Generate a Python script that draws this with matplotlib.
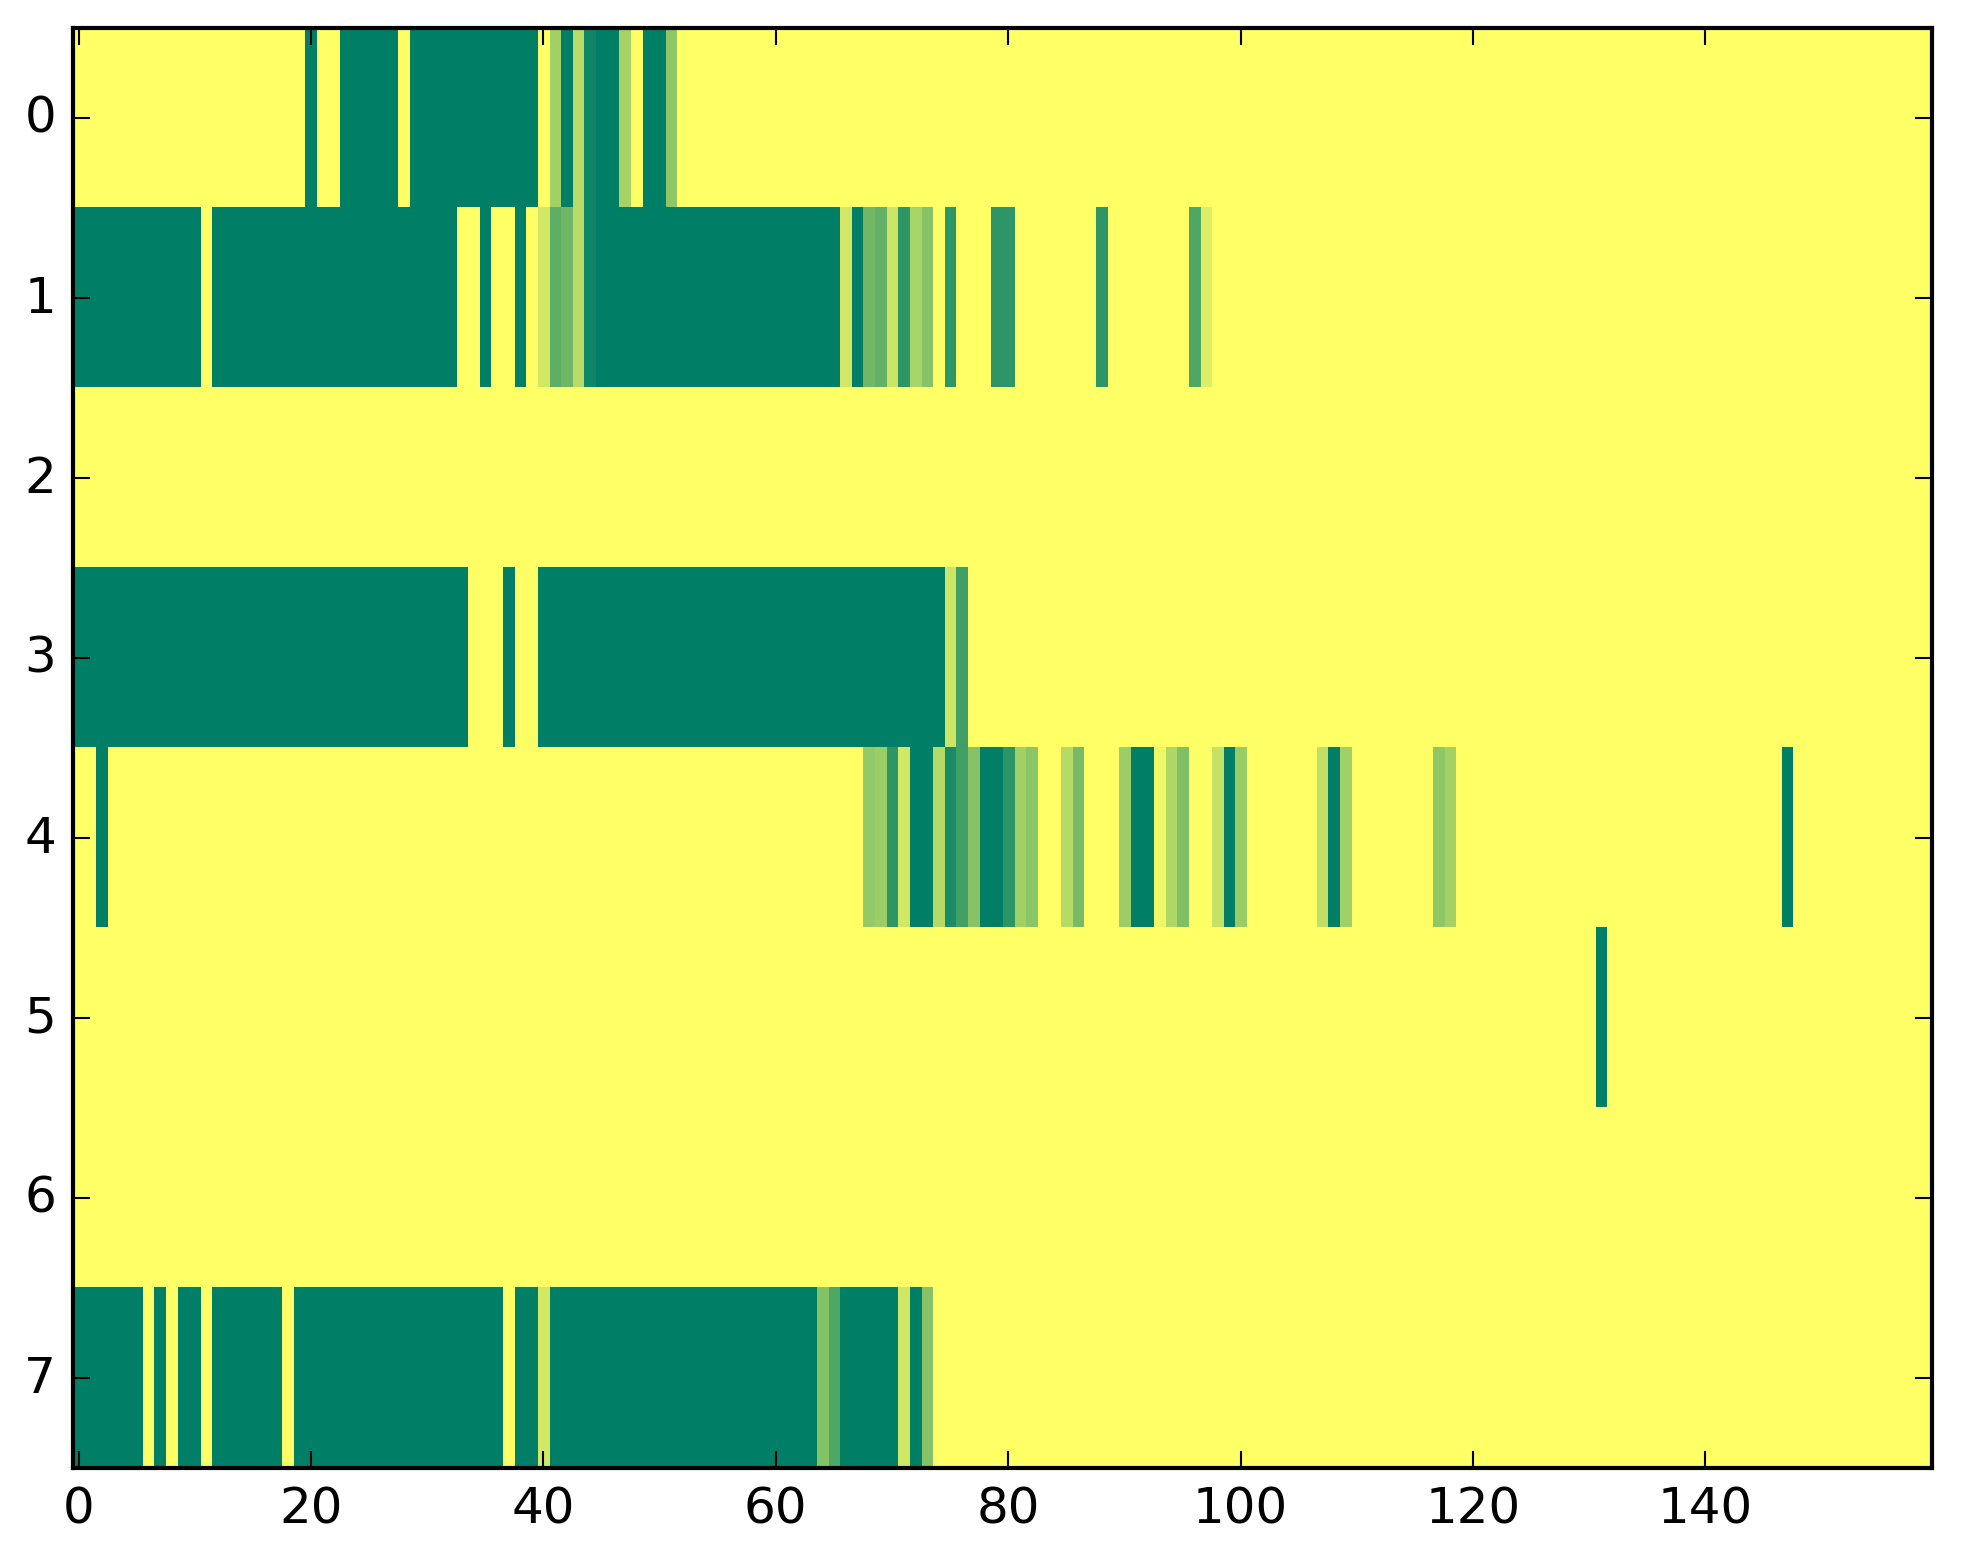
import matplotlib
matplotlib.use("Agg")
import matplotlib.pyplot as plt
import numpy as np

# Each row: 160 columns, written 20 values per line
row0 = [
    0, 0, 0, 0, 0, 0, 0, 0, 0, 0, 0, 0, 0, 0, 0, 0, 0, 0, 0, 0,
    1, 0, 0, 1, 1, 1, 1, 1, 0, 1, 1, 1, 1, 1, 1, 1, 1, 1, 1, 1,
    0, .37, 1, .28, .94, 1, 1, .35, 0, 1, 1, .44, 0, 0, 0, 0, 0, 0, 0, 0,
    0, 0, 0, 0, 0, 0, 0, 0, 0, 0, 0, 0, 0, 0, 0, 0, 0, 0, 0, 0,
    0, 0, 0, 0, 0, 0, 0, 0, 0, 0, 0, 0, 0, 0, 0, 0, 0, 0, 0, 0,
    0, 0, 0, 0, 0, 0, 0, 0, 0, 0, 0, 0, 0, 0, 0, 0, 0, 0, 0, 0,
    0, 0, 0, 0, 0, 0, 0, 0, 0, 0, 0, 0, 0, 0, 0, 0, 0, 0, 0, 0,
    0, 0, 0, 0, 0, 0, 0, 0, 0, 0, 0, 0, 0, 0, 0, 0, 0, 0, 0, 0,
]
row1 = [
    1, 1, 1, 1, 1, 1, 1, 1, 1, 1, 1, 0, 1, 1, 1, 1, 1, 1, 1, 1,
    1, 1, 1, 1, 1, 1, 1, 1, 1, 1, 1, 1, 1, 0, 0, 1, 0, 0, 1, 0,
    .18, .63, .57, .28, .94, 1, 1, 1, 1, 1, 1, 1, 1, 1, 1, 1, 1, 1, 1, 1,
    1, 1, 1, 1, 1, 1, .17, 1, .56, .61, .2, .82, .34, .47, 0, .82, 0, 0, 0, .82,
    .82, 0, 0, 0, 0, 0, 0, 0, .82, 0, 0, 0, 0, 0, 0, 0, .69, .14, 0, 0,
    0, 0, 0, 0, 0, 0, 0, 0, 0, 0, 0, 0, 0, 0, 0, 0, 0, 0, 0, 0,
    0, 0, 0, 0, 0, 0, 0, 0, 0, 0, 0, 0, 0, 0, 0, 0, 0, 0, 0, 0,
    0, 0, 0, 0, 0, 0, 0, 0, 0, 0, 0, 0, 0, 0, 0, 0, 0, 0, 0, 0,
]
row2 = [
    0, 0, 0, 0, 0, 0, 0, 0, 0, 0, 0, 0, 0, 0, 0, 0, 0, 0, 0, 0,
    0, 0, 0, 0, 0, 0, 0, 0, 0, 0, 0, 0, 0, 0, 0, 0, 0, 0, 0, 0,
    0, 0, 0, 0, 0, 0, 0, 0, 0, 0, 0, 0, 0, 0, 0, 0, 0, 0, 0, 0,
    0, 0, 0, 0, 0, 0, 0, 0, 0, 0, 0, 0, 0, 0, 0, 0, 0, 0, 0, 0,
    0, 0, 0, 0, 0, 0, 0, 0, 0, 0, 0, 0, 0, 0, 0, 0, 0, 0, 0, 0,
    0, 0, 0, 0, 0, 0, 0, 0, 0, 0, 0, 0, 0, 0, 0, 0, 0, 0, 0, 0,
    0, 0, 0, 0, 0, 0, 0, 0, 0, 0, 0, 0, 0, 0, 0, 0, 0, 0, 0, 0,
    0, 0, 0, 0, 0, 0, 0, 0, 0, 0, 0, 0, 0, 0, 0, 0, 0, 0, 0, 0,
]
row3 = [
    1, 1, 1, 1, 1, 1, 1, 1, 1, 1, 1, 1, 1, 1, 1, 1, 1, 1, 1, 1,
    1, 1, 1, 1, 1, 1, 1, 1, 1, 1, 1, 1, 1, 1, 0, 0, 0, 1, 0, 0,
    1, 1, 1, 1, 1, 1, 1, 1, 1, 1, 1, 1, 1, 1, 1, 1, 1, 1, 1, 1,
    1, 1, 1, 1, 1, 1, 1, 1, 1, 1, 1, 1, 1, 1, 1, .2, .75, 0, 0, 0,
    0, 0, 0, 0, 0, 0, 0, 0, 0, 0, 0, 0, 0, 0, 0, 0, 0, 0, 0, 0,
    0, 0, 0, 0, 0, 0, 0, 0, 0, 0, 0, 0, 0, 0, 0, 0, 0, 0, 0, 0,
    0, 0, 0, 0, 0, 0, 0, 0, 0, 0, 0, 0, 0, 0, 0, 0, 0, 0, 0, 0,
    0, 0, 0, 0, 0, 0, 0, 0, 0, 0, 0, 0, 0, 0, 0, 0, 0, 0, 0, 0,
]
row4 = [
    0, 0, 1, 0, 0, 0, 0, 0, 0, 0, 0, 0, 0, 0, 0, 0, 0, 0, 0, 0,
    0, 0, 0, 0, 0, 0, 0, 0, 0, 0, 0, 0, 0, 0, 0, 0, 0, 0, 0, 0,
    0, 0, 0, 0, 0, 0, 0, 0, 0, 0, 0, 0, 0, 0, 0, 0, 0, 0, 0, 0,
    0, 0, 0, 0, 0, 0, 0, 0, .42, .39, .82, .18, 1, 1, .29, .9, .74, .47, 1, 1,
    .83, .37, .45, 0, 0, .29, .53, 0, 0, 0, .39, 1, 1, .06, .31, .5, 0, 0, .23, 1,
    .4, 0, 0, 0, 0, 0, 0, .25, 1, .37, 0, 0, 0, 0, 0, 0, 0, .44, .36, 0,
    0, 0, 0, 0, 0, 0, 0, 0, 0, 0, 0, 0, 0, 0, 0, 0, 0, 0, 0, 0,
    0, 0, 0, 0, 0, 0, 0, 1, 0, 0, 0, 0, 0, 0, 0, 0, 0, 0, 0, 0,
]
row5 = [
    0, 0, 0, 0, 0, 0, 0, 0, 0, 0, 0, 0, 0, 0, 0, 0, 0, 0, 0, 0,
    0, 0, 0, 0, 0, 0, 0, 0, 0, 0, 0, 0, 0, 0, 0, 0, 0, 0, 0, 0,
    0, 0, 0, 0, 0, 0, 0, 0, 0, 0, 0, 0, 0, 0, 0, 0, 0, 0, 0, 0,
    0, 0, 0, 0, 0, 0, 0, 0, 0, 0, 0, 0, 0, 0, 0, 0, 0, 0, 0, 0,
    0, 0, 0, 0, 0, 0, 0, 0, 0, 0, 0, 0, 0, 0, 0, 0, 0, 0, 0, 0,
    0, 0, 0, 0, 0, 0, 0, 0, 0, 0, 0, 0, 0, 0, 0, 0, 0, 0, 0, 0,
    0, 0, 0, 0, 0, 0, 0, 0, 0, 0, 0, 1, 0, 0, 0, 0, 0, 0, 0, 0,
    0, 0, 0, 0, 0, 0, 0, 0, 0, 0, 0, 0, 0, 0, 0, 0, 0, 0, 0, 0,
]
row6 = [
    0, 0, 0, 0, 0, 0, 0, 0, 0, 0, 0, 0, 0, 0, 0, 0, 0, 0, 0, 0,
    0, 0, 0, 0, 0, 0, 0, 0, 0, 0, 0, 0, 0, 0, 0, 0, 0, 0, 0, 0,
    0, 0, 0, 0, 0, 0, 0, 0, 0, 0, 0, 0, 0, 0, 0, 0, 0, 0, 0, 0,
    0, 0, 0, 0, 0, 0, 0, 0, 0, 0, 0, 0, 0, 0, 0, 0, 0, 0, 0, 0,
    0, 0, 0, 0, 0, 0, 0, 0, 0, 0, 0, 0, 0, 0, 0, 0, 0, 0, 0, 0,
    0, 0, 0, 0, 0, 0, 0, 0, 0, 0, 0, 0, 0, 0, 0, 0, 0, 0, 0, 0,
    0, 0, 0, 0, 0, 0, 0, 0, 0, 0, 0, 0, 0, 0, 0, 0, 0, 0, 0, 0,
    0, 0, 0, 0, 0, 0, 0, 0, 0, 0, 0, 0, 0, 0, 0, 0, 0, 0, 0, 0,
]
row7 = [
    1, 1, 1, 1, 1, 1, 0, 1, 0, 1, 1, 0, 1, 1, 1, 1, 1, 1, 0, 1,
    1, 1, 1, 1, 1, 1, 1, 1, 1, 1, 1, 1, 1, 1, 1, 1, 1, 0, 1, 1,
    .17, 1, 1, 1, 1, 1, 1, 1, 1, 1, 1, 1, 1, 1, 1, 1, 1, 1, 1, 1,
    1, 1, 1, 1, .48, .69, 1, 1, 1, 1, 1, .18, 1, .47, 0, 0, 0, 0, 0, 0,
    0, 0, 0, 0, 0, 0, 0, 0, 0, 0, 0, 0, 0, 0, 0, 0, 0, 0, 0, 0,
    0, 0, 0, 0, 0, 0, 0, 0, 0, 0, 0, 0, 0, 0, 0, 0, 0, 0, 0, 0,
    0, 0, 0, 0, 0, 0, 0, 0, 0, 0, 0, 0, 0, 0, 0, 0, 0, 0, 0, 0,
    0, 0, 0, 0, 0, 0, 0, 0, 0, 0, 0, 0, 0, 0, 0, 0, 0, 0, 0, 0,
]

x_ticks = [0, 20, 40, 60, 80, 100, 120, 140]
y_ticks = [0, 1, 2, 3, 4, 5, 6, 7]

plt.style.use("classic")
DPI = 300
W, H = 1963, 1564
fig = plt.figure(figsize=(W / DPI, H / DPI), dpi=DPI, facecolor="white")
left_px, right_px, top_px, bottom_px = 72.8, 1932.0, 29.0, 1468.5
ax = fig.add_axes([left_px / W, 1 - bottom_px / H, (right_px - left_px) / W, (bottom_px - top_px) / H])

data = np.array([row0, row1, row2, row3, row4, row5, row6, row7], dtype=float)
ax.imshow(data, cmap="summer_r", vmin=0, vmax=1, aspect="auto", interpolation="nearest")
ax.set_xticks(x_ticks)
ax.set_yticks(y_ticks)
ax.set_xlim(-0.5, data.shape[1] - 0.5)
ax.set_ylim(data.shape[0] - 0.5, -0.5)

fig.savefig("out.png", dpi=DPI, facecolor="white")
